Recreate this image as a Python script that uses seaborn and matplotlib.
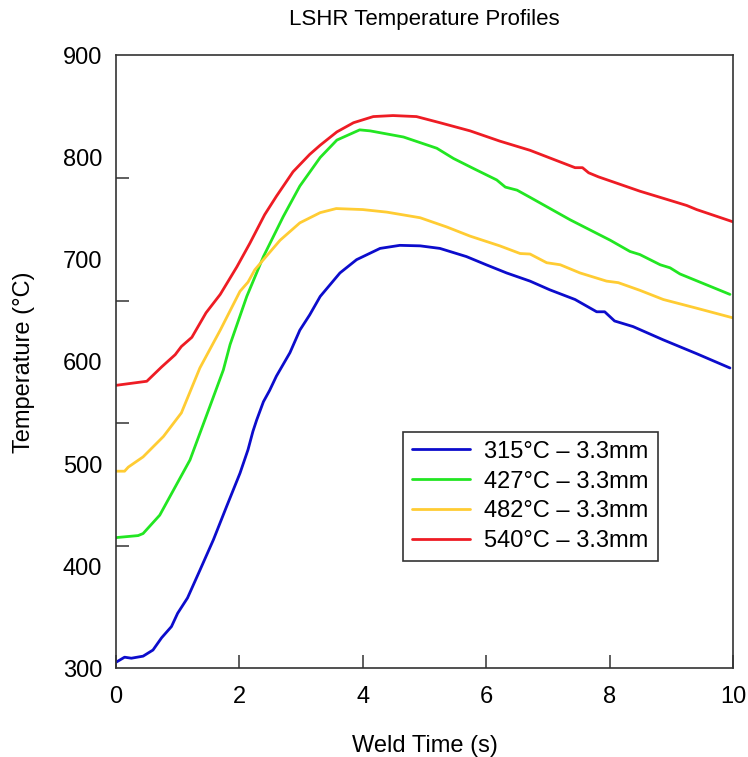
import numpy as np
import pandas as pd
import seaborn as sns
import matplotlib
matplotlib.use("Agg")
import matplotlib.pyplot as plt
from matplotlib.ticker import FixedLocator

# series (time in s, temperature in degC)
t_315 = [0, 0.14, 0.25, 0.44, 0.6, 0.74, 0.9, 1.0, 1.16, 1.36, 1.58, 1.79, 2.01, 2.14, 2.22, 2.28,
         2.39, 2.49, 2.6, 2.82, 2.98, 3.14, 3.31, 3.63, 3.9, 4.28, 4.6, 4.93, 5.25, 5.68, 6.0, 6.33,
         6.71, 7.03, 7.44, 7.79, 7.92, 8.08, 8.38, 8.87, 9.41, 9.95]
v_315 = [306, 311, 310, 312, 318, 330, 341, 354, 369, 396, 426, 458, 491, 514, 532, 543,
         561, 572, 586, 609, 631, 646, 664, 687, 700, 711, 714, 713.5, 711, 703, 695, 687,
         679, 670.5, 661, 649, 649, 640, 634.5, 621.5, 608, 594]

t_427 = [0, 0.36, 0.44, 0.71, 1.2, 1.52, 1.74, 1.85, 2.12, 2.39, 2.71, 2.98, 3.31, 3.58, 3.95,
         4.12, 4.66, 5.2, 5.47, 5.8, 6.17, 6.31, 6.5, 6.71, 7.36, 8.01, 8.33, 8.49, 8.82, 8.98,
         9.14, 9.95]
v_427 = [428, 430, 432, 450, 504, 556, 592, 617, 664, 703, 742, 772, 800, 817, 827,
         826, 820, 809, 799, 789, 778, 771, 768, 761, 739, 719, 708, 705, 695, 692,
         686, 666]

t_482 = [0, 0.14, 0.2, 0.44, 0.77, 1.06, 1.36, 1.69, 2.01, 2.14, 2.25, 2.39, 2.66, 2.98, 3.31,
         3.57, 4.0, 4.39, 4.93, 5.36, 5.74, 6.22, 6.55, 6.71, 6.98, 7.2, 7.52, 7.95, 8.14, 8.49,
         8.87, 9.41, 10]
v_482 = [493, 493, 497, 507, 527, 550, 594, 631, 669, 678, 690, 700, 719, 736, 746,
         750, 749, 746.5, 741, 732, 723, 713.5, 706, 705.5, 697, 695, 687, 679, 677.5, 670,
         661, 652.5, 643]

t_540 = [0, 0.5, 0.74, 0.96, 1.06, 1.23, 1.46, 1.69, 1.96, 2.17, 2.41, 2.6, 2.87, 3.14, 3.31,
         3.58, 3.85, 4.17, 4.49, 4.87, 5.25, 5.74, 6.22, 6.71, 7.44, 7.56, 7.66, 7.82, 8.06,
         8.49, 8.98, 9.25, 9.41, 10]
v_540 = [577, 581, 595, 607, 615, 624, 648, 666, 693, 716, 744, 762, 786, 803, 812,
         825, 834, 840, 841, 840, 834, 826, 816, 807, 790, 790, 785, 781, 776,
         767, 758, 753, 749, 737]

labels = ["315°C – 3.3mm", "427°C – 3.3mm", "482°C – 3.3mm", "540°C – 3.3mm"]
colors = ["#0c0ccc", "#22e622", "#ffcc33", "#ee1c24"]

frames = []
for lab, t, v in zip(labels, [t_315, t_427, t_482, t_540], [v_315, v_427, v_482, v_540]):
    frames.append(pd.DataFrame({"time": t, "temp": v, "series": lab}))
df = pd.concat(frames, ignore_index=True)

sns.set_style("white")
plt.rcParams["font.family"] = ["Liberation Sans", "DejaVu Sans"]
plt.rcParams["text.color"] = "black"
plt.rcParams["axes.labelcolor"] = "black"
plt.rcParams["xtick.color"] = "black"
plt.rcParams["ytick.color"] = "black"

fig = plt.figure(figsize=(7.48, 7.57), dpi=100)
ax = fig.add_axes([0.155, 0.117, 0.825, 0.81])

sns.lineplot(data=df, x="time", y="temp", hue="series", hue_order=labels,
             palette=colors, sort=False, estimator=None, linewidth=2, ax=ax)

ax.set_xlim(0, 10)
ax.set_ylim(300, 900)
ax.set_xticks([0, 2, 4, 6, 8, 10])
ax.set_yticks([300, 400, 500, 600, 700, 800, 900])
ax.yaxis.set_minor_locator(FixedLocator([420, 540, 660, 780]))
ax.tick_params(axis="x", which="major", direction="in", length=9.5, width=1.1,
               color="#333333", labelcolor="black", labelsize=17, pad=13, bottom=True)
ax.tick_params(axis="y", which="major", length=0, labelsize=17, pad=10, labelcolor="black")
ax.tick_params(axis="y", which="minor", direction="in", length=9.5, width=1.1,
               color="#333333", left=True)
for s in ax.spines.values():
    s.set_color("#333333")
    s.set_linewidth(1.2)

ax.set_title("LSHR Temperature Profiles", fontsize=16, pad=22, color="black")
ax.set_xlabel("Weld Time (s)", fontsize=17, labelpad=19)
ax.set_ylabel("Temperature (°C)", fontsize=17, labelpad=20)

leg = ax.legend(loc="upper left", bbox_to_anchor=(0.4656, 0.386), borderaxespad=0,
                fontsize=17, frameon=True, fancybox=False, handlelength=2.45,
                handletextpad=0.6, labelspacing=0.33, borderpad=0.38)
leg.get_frame().set_edgecolor("#333333")
leg.get_frame().set_linewidth(1.2)
leg.get_frame().set_alpha(1)

fig.savefig("out.png", dpi=100)
